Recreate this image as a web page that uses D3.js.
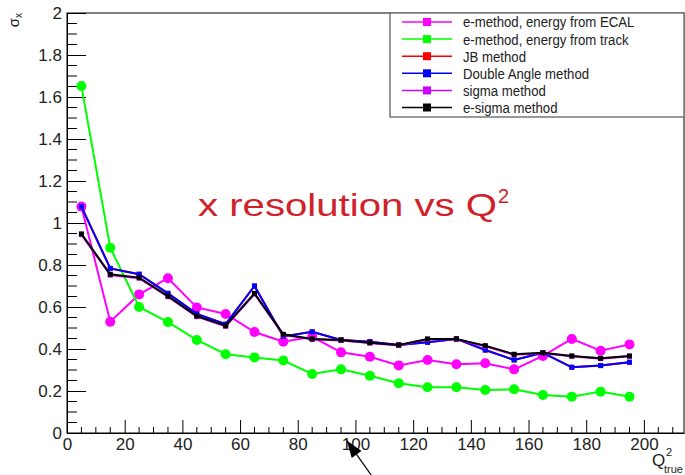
<!DOCTYPE html>
<html>
<head>
<meta charset="utf-8">
<script src="https://cdn.jsdelivr.net/npm/d3@7"></script>
<style>
  body { margin: 0; background: #fff; }
  text { font-family: "Liberation Sans", Arial, sans-serif; }
</style>
</head>
<body>
<div id="plot"></div>
<script>
let svgWidth = 685;
let svgHeight = 475;
let margin = { top: 13, right: 1, bottom: 42, left: 67 };
let w = svgWidth - margin.left - margin.right;
let h = svgHeight - margin.top - margin.bottom;

// bin centres of Q2_true
let q2 = [5, 15, 25, 35, 45, 55, 65, 75, 85, 95, 105, 115, 125, 135, 145, 155, 165, 175, 185, 195];

let eEcal  = [1.078, 0.530, 0.660, 0.737, 0.598, 0.567, 0.481, 0.435, 0.458, 0.384, 0.363, 0.322, 0.348, 0.327, 0.332, 0.303, 0.367, 0.448, 0.392, 0.422];
let eTrack = [1.652, 0.882, 0.600, 0.528, 0.443, 0.375, 0.360, 0.345, 0.281, 0.303, 0.273, 0.237, 0.218, 0.218, 0.205, 0.208, 0.181, 0.173, 0.197, 0.173];
let jb     = [1.078, 0.784, 0.756, 0.665, 0.567, 0.518, 0.700, 0.460, 0.482, 0.443, 0.435, 0.419, 0.432, 0.448, 0.395, 0.348, 0.382, 0.313, 0.321, 0.337];
let dA     = [1.078, 0.784, 0.756, 0.665, 0.567, 0.518, 0.700, 0.460, 0.482, 0.443, 0.435, 0.419, 0.432, 0.448, 0.395, 0.348, 0.382, 0.313, 0.321, 0.337];
let sigma  = [0.945, 0.752, 0.737, 0.649, 0.554, 0.508, 0.662, 0.467, 0.446, 0.441, 0.428, 0.417, 0.446, 0.446, 0.413, 0.373, 0.380, 0.365, 0.354, 0.365];
let eSigma = [0.948, 0.756, 0.740, 0.652, 0.557, 0.511, 0.665, 0.470, 0.448, 0.443, 0.430, 0.419, 0.448, 0.448, 0.416, 0.375, 0.382, 0.367, 0.356, 0.367];

let seriesNames  = ['e-method, energy from ECAL', 'e-method, energy from track', 'JB method', 'Double Angle method', 'sigma method', 'e-sigma method'];
let seriesColors = ['#ff00ff', '#00ff00', '#ff0000', '#0000ff', '#cc00ff', '#000000'];
let seriesMarks  = ['circle', 'circle', 'square', 'square', 'square', 'square'];
let seriesValues = [eEcal, eTrack, jb, dA, sigma, eSigma];

let xTicks = [0, 20, 40, 60, 80, 100, 120, 140, 160, 180, 200];
let yTicks = [0, 0.2, 0.4, 0.6, 0.8, 1, 1.2, 1.4, 1.6, 1.8, 2];

// annotation arrow (data units)
let arrowFrom = [106.2, -0.215];
let arrowTo = [97, -0.036];

let svg = d3.select('#plot')
    .append('svg')
        .attr('width', svgWidth)
        .attr('height', svgHeight);

svg.append('rect').attr('width', svgWidth).attr('height', svgHeight).attr('fill', '#fff');

let chart = svg.append('g')
    .attr('transform', `translate(${margin.left},${margin.top})`);

let x = d3.scaleLinear().domain([0, 213.9]).range([0, w]);
let y = d3.scaleLinear().domain([0, 2]).range([h, 0]);

// frame
chart.append('rect')
    .attr('width', w).attr('height', h)
    .attr('fill', 'none').attr('stroke', '#000').attr('stroke-width', 1);

// minor ticks
chart.append('g').selectAll('line')
    .data(d3.range(0, 214, 5).filter(d => d % 20 !== 0))
    .join('line')
        .attr('x1', d => x(d)).attr('x2', d => x(d))
        .attr('y1', h).attr('y2', h - 6)
        .attr('stroke', '#000');

chart.append('g').selectAll('line')
    .data(d3.range(0, 41).map(i => i * 0.05).filter((d, i) => i % 4 !== 0))
    .join('line')
        .attr('x1', 0).attr('x2', 10)
        .attr('y1', d => y(d)).attr('y2', d => y(d))
        .attr('stroke', '#000');

let xAxis = d3.axisBottom(x).tickValues(xTicks).tickSizeInner(-13).tickSizeOuter(0).tickPadding(5);
let yAxis = d3.axisLeft(y).tickValues(yTicks).tickSizeInner(-19).tickSizeOuter(0).tickPadding(5)
    .tickFormat(d3.format('~g'));

let gx = chart.append('g').attr('transform', `translate(0,${h})`).call(xAxis);
let gy = chart.append('g').call(yAxis);
[gx, gy].forEach(g => {
    g.select('.domain').attr('stroke', '#000');
    g.selectAll('.tick line').attr('stroke', '#000');
    g.selectAll('text')
        .attr('font-family', '"Liberation Sans", Arial, sans-serif')
        .attr('font-size', 17)
        .attr('fill', '#222');
});

// series
let line = d3.line().x((d, i) => x(q2[i])).y(d => y(d));

seriesValues.forEach(function(vals, k) {
    let col = seriesColors[k];
    chart.append('path')
        .datum(vals)
        .attr('d', line)
        .attr('fill', 'none')
        .attr('stroke', col)
        .attr('stroke-width', 2);
    if (seriesMarks[k] === 'circle') {
        chart.append('g').selectAll('circle')
            .data(vals)
            .join('circle')
                .attr('cx', (d, i) => x(q2[i]))
                .attr('cy', d => y(d))
                .attr('r', 5)
                .attr('fill', col);
    } else {
        chart.append('g').selectAll('rect')
            .data(vals)
            .join('rect')
                .attr('x', (d, i) => x(q2[i]) - 2.5)
                .attr('y', d => y(d) - 2.5)
                .attr('width', 5).attr('height', 5)
                .attr('fill', col);
    }
});

// legend
let legend = svg.append('g').attr('transform', 'translate(390,13)');
legend.append('rect')
    .attr('width', 294).attr('height', 104)
    .attr('fill', '#fff').attr('stroke', '#777').attr('stroke-width', 1.5);

let rows = legend.selectAll('g.row')
    .data(seriesNames)
    .join('g')
        .attr('class', 'row')
        .attr('transform', (d, i) => `translate(0,${9 + i * 17.1})`);

rows.append('line')
    .attr('x1', 12).attr('x2', 62)
    .attr('stroke', (d, i) => seriesColors[i]).attr('stroke-width', 1.5);
rows.append('rect')
    .attr('x', 33).attr('y', -4).attr('width', 8).attr('height', 8)
    .attr('fill', (d, i) => seriesColors[i]);
rows.append('text')
    .attr('transform', 'translate(73,0) scale(0.88,1)')
    .attr('dy', '0.36em')
    .attr('font-size', 15)
    .attr('fill', '#222')
    .text(d => d);

// axis titles
let yt = svg.append('text')
    .attr('transform', 'translate(19,13) rotate(-90)')
    .attr('text-anchor', 'end')
    .attr('font-size', 15)
    .attr('fill', '#222');
yt.append('tspan').text('σ');
yt.append('tspan').attr('font-size', 10).attr('dy', 3).text('x');

svg.append('text').attr('x', 652).attr('y', 466).attr('font-size', 17).attr('fill', '#222').text('Q');
svg.append('text').attr('x', 666).attr('y', 456).attr('font-size', 11).attr('fill', '#222').text('2');
svg.append('text').attr('x', 664).attr('y', 473).attr('font-size', 11).attr('fill', '#222').text('true');

// title
svg.append('text')
    .attr('x', 198).attr('y', 216)
    .attr('font-size', 32)
    .attr('textLength', 299).attr('lengthAdjust', 'spacingAndGlyphs')
    .attr('fill', '#d0222a')
    .text('x resolution vs Q');
svg.append('text')
    .attr('x', 498).attr('y', 203)
    .attr('font-size', 20)
    .attr('fill', '#d0222a')
    .text('2');

// arrow
let ax0 = margin.left + x(arrowFrom[0]), ay0 = margin.top + y(arrowFrom[1]);
let ax1 = margin.left + x(arrowTo[0]), ay1 = margin.top + y(arrowTo[1]);
svg.append('line')
    .attr('x1', ax0).attr('y1', ay0).attr('x2', ax1).attr('y2', ay1)
    .attr('stroke', '#000').attr('stroke-width', 1.2);
let ang = Math.atan2(ay0 - ay1, ax0 - ax1);
let hl = 17, hw = 6;
let bx = ax1 + hl * Math.cos(ang), by = ay1 + hl * Math.sin(ang);
svg.append('path')
    .attr('d', `M${ax1},${ay1} L${bx - hw * Math.sin(ang)},${by + hw * Math.cos(ang)} L${bx + hw * Math.sin(ang)},${by - hw * Math.cos(ang)} Z`)
    .attr('fill', '#000');
</script>
</body>
</html>
